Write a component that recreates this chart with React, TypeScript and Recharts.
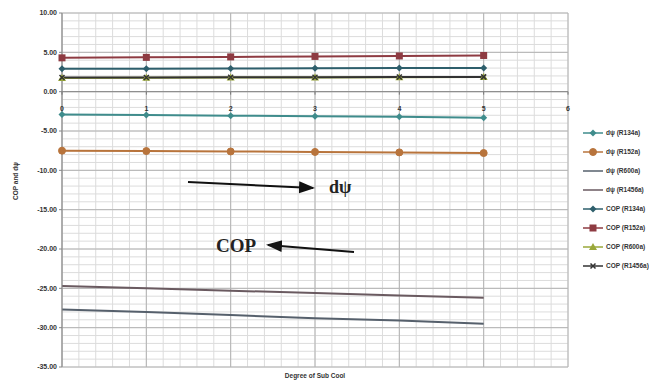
import React from 'react';
import { LineChart, Line, XAxis, YAxis, CartesianGrid, Legend, ReferenceLine } from 'recharts';

// degree of sub cool
const subCool = [0, 1, 2, 3, 4, 5];

const dpsiR134a = [-2.9, -2.97, -3.05, -3.12, -3.2, -3.3];
const dpsiR152a = [-7.5, -7.55, -7.6, -7.66, -7.72, -7.8];
const dpsiR600a = [-27.7, -28.0, -28.4, -28.8, -29.1, -29.5];
const dpsiR1456a = [-24.7, -25.0, -25.3, -25.6, -25.9, -26.2];
const copR134a = [2.9, 2.92, 2.95, 2.97, 3.0, 3.02];
const copR152a = [4.3, 4.36, 4.42, 4.48, 4.54, 4.6];
const copR600a = [1.75, 1.77, 1.79, 1.81, 1.83, 1.85];
const copR1456a = [1.8, 1.81, 1.83, 1.84, 1.86, 1.88];

const yTicks = [10, 5, 0, -5, -10, -15, -20, -25, -30, -35];
const xTicks = [0, 1, 2, 3, 4, 5, 6];

const X_MIN = 0;
const X_MAX = 6;
const Y_MIN = -35;
const Y_MAX = 10;

const W = 649;
const H = 381;
const TOP = 13;
const LEFT = 62;
const RIGHT = 81;
const BOTTOM = 14;
const PLOT_H = H - TOP - BOTTOM;

const minorX: number[] = [];
for (let i = 0; i <= 30; i++) minorX.push(i / 5);
const minorY: number[] = [];
for (let i = -35; i <= 10; i++) minorY.push(i);

const series = [
  { key: 'dpsiR134a', name: 'dψ (R134a)', values: dpsiR134a, color: '#3f8c8c', marker: 'diamond' },
  { key: 'dpsiR152a', name: 'dψ (R152a)', values: dpsiR152a, color: '#b8743c', marker: 'circle' },
  { key: 'dpsiR600a', name: 'dψ (R600a)', values: dpsiR600a, color: '#56606c', marker: 'none' },
  { key: 'dpsiR1456a', name: 'dψ (R1456a)', values: dpsiR1456a, color: '#6a5a60', marker: 'none' },
  { key: 'copR134a', name: 'COP (R134a)', values: copR134a, color: '#2e5f6c', marker: 'diamond' },
  { key: 'copR152a', name: 'COP (R152a)', values: copR152a, color: '#8e3b42', marker: 'square' },
  { key: 'copR600a', name: 'COP (R600a)', values: copR600a, color: '#9aa83a', marker: 'triangle' },
  { key: 'copR1456a', name: 'COP (R1456a)', values: copR1456a, color: '#333333', marker: 'x' },
];

const data = subCool.map((x, i) => {
  const row: any = { x };
  series.forEach((s) => { row[s.key] = s.values[i]; });
  return row;
});

// grid positions from the plot offset and the axis domains
const gridX = (vals: number[]) => ({ offset }: any) =>
  vals.map((v) => offset.left + ((v - X_MIN) / (X_MAX - X_MIN)) * offset.width);
const gridY = (vals: number[]) => ({ offset }: any) =>
  vals.map((v) => offset.top + ((Y_MAX - v) / (Y_MAX - Y_MIN)) * offset.height);

const Marker = ({ shape, color, cx, cy }: any) => {
  if (cx == null || cy == null) return null;
  if (shape === 'circle') return <circle cx={cx} cy={cy} r={3.5} fill={color} stroke={color} />;
  if (shape === 'square') return <rect x={cx - 3.5} y={cy - 3.5} width={7} height={7} fill={color} />;
  if (shape === 'triangle') return <polygon points={`${cx},${cy - 4} ${cx - 4},${cy + 3} ${cx + 4},${cy + 3}`} fill={color} />;
  if (shape === 'diamond') return <polygon points={`${cx},${cy - 3.5} ${cx + 3.5},${cy} ${cx},${cy + 3.5} ${cx - 3.5},${cy}`} fill={color} />;
  if (shape === 'x') return <path d={`M${cx - 2.5},${cy - 2.5}L${cx + 2.5},${cy + 2.5}M${cx - 2.5},${cy + 2.5}L${cx + 2.5},${cy - 2.5}`} stroke={color} strokeWidth={1.5} />;
  return null;
};

const XTick = ({ x, payload }: any) => {
  // labels sit just below the zero line
  const y0 = TOP + PLOT_H * (Y_MAX / (Y_MAX - Y_MIN));
  return (
    <g>
      <line x1={x} x2={x} y1={y0} y2={y0 + 3} stroke="#777" />
      <text x={x} y={y0 + 19} textAnchor="middle" fontSize={7} fontWeight="bold" fill="#333" fontFamily="Liberation Sans, Arial, sans-serif">
        {payload.value}
      </text>
    </g>
  );
};

const renderLegend = () => (
  <div style={{ fontFamily: 'Liberation Sans, Arial, sans-serif', fontSize: 6.5, fontWeight: 'bold', color: '#333' }}>
    {series.map((s) => (
      <div key={s.key} style={{ height: 19, display: 'flex', alignItems: 'center', whiteSpace: 'nowrap' }}>
        <svg width={20} height={10} style={{ marginRight: 3 }}>
          <line x1={0} x2={20} y1={5} y2={5} stroke={s.color} strokeWidth={1.5} />
          <Marker shape={s.marker} color={s.color} cx={10} cy={5} />
        </svg>
        <span>{s.name}</span>
      </div>
    ))}
  </div>
);

const App: React.FC = () => {
  return (
    <div style={{ position: 'absolute', left: 0, top: 0, width: W, height: H, background: '#fff', overflow: 'hidden' }}>
      <LineChart width={W} height={H} data={data} margin={{ top: TOP, right: RIGHT, bottom: 0, left: 0 }}>
        <CartesianGrid stroke="#dcdcdc" verticalCoordinatesGenerator={gridX(minorX)} horizontalCoordinatesGenerator={gridY(minorY)} />
        <CartesianGrid stroke="#b4b4b4" fill="none" verticalCoordinatesGenerator={gridX(xTicks)} horizontalCoordinatesGenerator={gridY(yTicks)} />
        <XAxis
          dataKey="x"
          type="number"
          domain={[X_MIN, X_MAX]}
          ticks={xTicks}
          height={BOTTOM}
          axisLine={false}
          tickLine={false}
          tick={<XTick />}
          label={{ value: 'Degree of Sub Cool', position: 'insideBottom', offset: 3, fontSize: 6.5, fontWeight: 'bold', fill: '#333', fontFamily: 'Liberation Sans, Arial, sans-serif' }}
        />
        <YAxis
          type="number"
          domain={[Y_MIN, Y_MAX]}
          ticks={yTicks}
          width={LEFT}
          interval={0}
          axisLine={{ stroke: '#888' }}
          tickLine={{ stroke: '#888' }}
          tickSize={3}
          tickFormatter={(v: number) => v.toFixed(2)}
          tick={{ fontSize: 7, fontWeight: 'bold', fill: '#333', fontFamily: 'Liberation Sans, Arial, sans-serif' }}
          label={{ value: 'COP and dψ', angle: -90, position: 'insideLeft', offset: 16, fontSize: 6.5, fontWeight: 'bold', fill: '#333', fontFamily: 'Liberation Sans, Arial, sans-serif', dy: 10 }}
        />
        <ReferenceLine y={0} stroke="#888" />
        <Legend layout="vertical" align="center" verticalAlign="middle" content={renderLegend} wrapperStyle={{ left: 583, top: 123, width: 80 }} />
        {series.map((s) => (
          <Line
            key={s.key}
            dataKey={s.key}
            name={s.name}
            stroke={s.color}
            strokeWidth={2}
            type="linear"
            isAnimationActive={false}
            dot={s.marker === 'none' ? false : (p: any) => <Marker key={p.index} shape={s.marker} color={s.color} cx={p.cx} cy={p.cy} />}
          />
        ))}
      </LineChart>
      <svg width={W} height={H} style={{ position: 'absolute', left: 0, top: 0, pointerEvents: 'none' }}>
        <defs>
          <marker id="ah" markerWidth={8} markerHeight={8} refX={7} refY={4} orient="auto">
            <path d="M0,1 L8,4 L0,7 z" fill="#111" />
          </marker>
        </defs>
        <line x1={188} y1={182} x2={313} y2={188} stroke="#111" strokeWidth={2} markerEnd="url(#ah)" />
        <text x={329} y={193} fontFamily="Liberation Serif, serif" fontWeight="bold" fontSize={18} fill="#222">dψ</text>
        <text x={216} y={252} fontFamily="Liberation Serif, serif" fontWeight="bold" fontSize={19} fill="#222">COP</text>
        <line x1={354} y1={252} x2={268} y2={245} stroke="#111" strokeWidth={2} markerEnd="url(#ah)" />
      </svg>
    </div>
  );
};

export default App;
